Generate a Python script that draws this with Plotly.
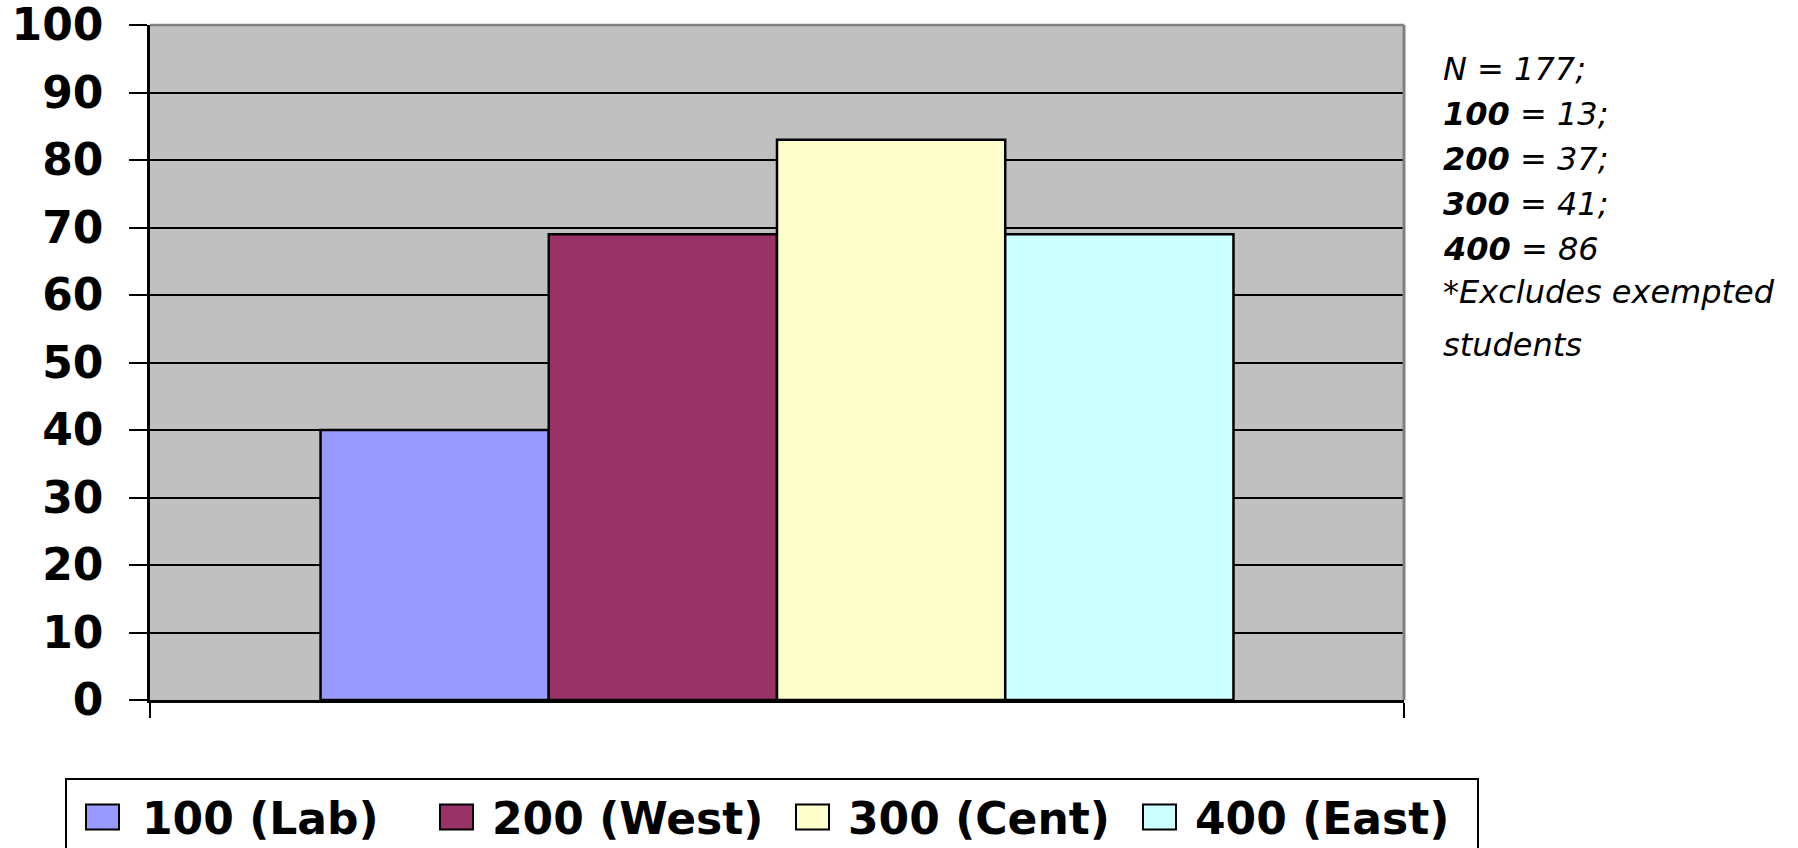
import plotly.graph_objects as go

# Percent of students per school
schools = ["100 (Lab)", "200 (West)", "300 (Cent)", "400 (East)"]
percents = [40, 69, 83, 69]
bar_colors = ["#9999FF", "#993366", "#FFFFCC", "#CCFFFF"]

# Sample sizes shown in the side note
school_codes = ["100", "200", "300", "400"]
school_counts = [13, 37, 41, 86]
total_n = 177

y_ticks = list(range(0, 101, 10))

W, H = 1798, 848
L, R, T, B = 150, 394, 25, 148
plot_w = W - L - R
plot_h = H - T - B
FONT = "DejaVu Sans"


def px_x(px):
    return (px - L) / plot_w


def px_y(py):
    return (H - B - py) / plot_h


fig = go.Figure()
for name, val, col in zip(schools, percents, bar_colors):
    fig.add_trace(go.Bar(
        x=["all"], y=[val], name=name,
        marker=dict(color=col, line=dict(color="black", width=2.5)),
        showlegend=False,
    ))

fig.update_layout(
    width=W, height=H,
    margin=dict(l=L, r=R, t=T, b=B, pad=0, autoexpand=False),
    paper_bgcolor="white",
    plot_bgcolor="#C0C0C0",
    barmode="group",
    bargap=0.272,
    bargroupgap=0,
    font=dict(family=FONT, color="black"),
)

fig.update_xaxes(
    type="category",
    range=[-0.5, 0.5],
    tickson="boundaries",
    ticks="outside", ticklen=15, tickwidth=2, tickcolor="black",
    showticklabels=False,
    showgrid=False,
    showline=True, linecolor="black", linewidth=2.5,
    automargin=False,
    fixedrange=True,
)
fig.update_yaxes(
    range=[0, 100],
    tickvals=y_ticks,
    ticks="outside", ticklen=18, tickwidth=2, tickcolor="black",
    tickfont=dict(family=FONT, size=44, weight="bold", color="black"),
    ticklabelstandoff=17,
    ticklabeloverflow="allow",
    showgrid=True, gridcolor="black", gridwidth=2,
    showline=True, linecolor="black", linewidth=2.5,
    zeroline=False,
    automargin=False,
    fixedrange=True,
)

shapes = [
    # plot-area frame on top and right
    dict(type="line", xref="paper", yref="paper", x0=0, x1=1, y0=1, y1=1,
         line=dict(color="#808080", width=2.5), layer="above"),
    dict(type="line", xref="paper", yref="paper", x0=1, x1=1, y0=0, y1=1,
         line=dict(color="#808080", width=3), layer="above"),
    # legend frame
    dict(type="rect", xref="paper", yref="paper",
         x0=px_x(66), x1=px_x(1478), y0=px_y(779), y1=px_y(870),
         line=dict(color="black", width=2), fillcolor="white", layer="above"),
]

annotations = []

# legend entries
swatch_x = [86, 440, 796, 1143]
text_x = [140, 490, 846, 1193]
leg_cy = 817
for name, col, sx, tx in zip(schools, bar_colors, swatch_x, text_x):
    shapes.append(dict(
        type="rect", xref="paper", yref="paper",
        x0=px_x(sx), x1=px_x(sx + 33), y0=px_y(leg_cy + 12.5), y1=px_y(leg_cy - 12.5),
        line=dict(color="black", width=2), fillcolor=col, layer="above",
    ))
    annotations.append(dict(
        xref="paper", yref="paper", x=px_x(tx), y=px_y(leg_cy + 2),
        xanchor="left", yanchor="middle", showarrow=False,
        text=name, font=dict(family=FONT, size=44, weight="bold", color="black"),
    ))

# side note
note_lines = [f"N = {total_n};"]
for i, (code, cnt) in enumerate(zip(school_codes, school_counts)):
    sep = ";" if i < len(school_codes) - 1 else ""
    note_lines.append(f"<b>{code}</b> = {cnt}{sep}")
note_lines += ["*Excludes exempted", "students"]

# text baselines in pixels (wrapped last line sits a little lower)
note_baselines = [82, 127, 172, 217, 262, 305, 358]
note_size = 32
for line, baseline in zip(note_lines, note_baselines):
    annotations.append(dict(
        xref="paper", yref="paper", x=px_x(1441), y=px_y(baseline - 13),
        xanchor="left", yanchor="middle", showarrow=False,
        text=line, font=dict(family=FONT, size=note_size, style="italic", color="black"),
    ))

fig.update_layout(shapes=shapes, annotations=annotations)

fig.write_html("out.html")
